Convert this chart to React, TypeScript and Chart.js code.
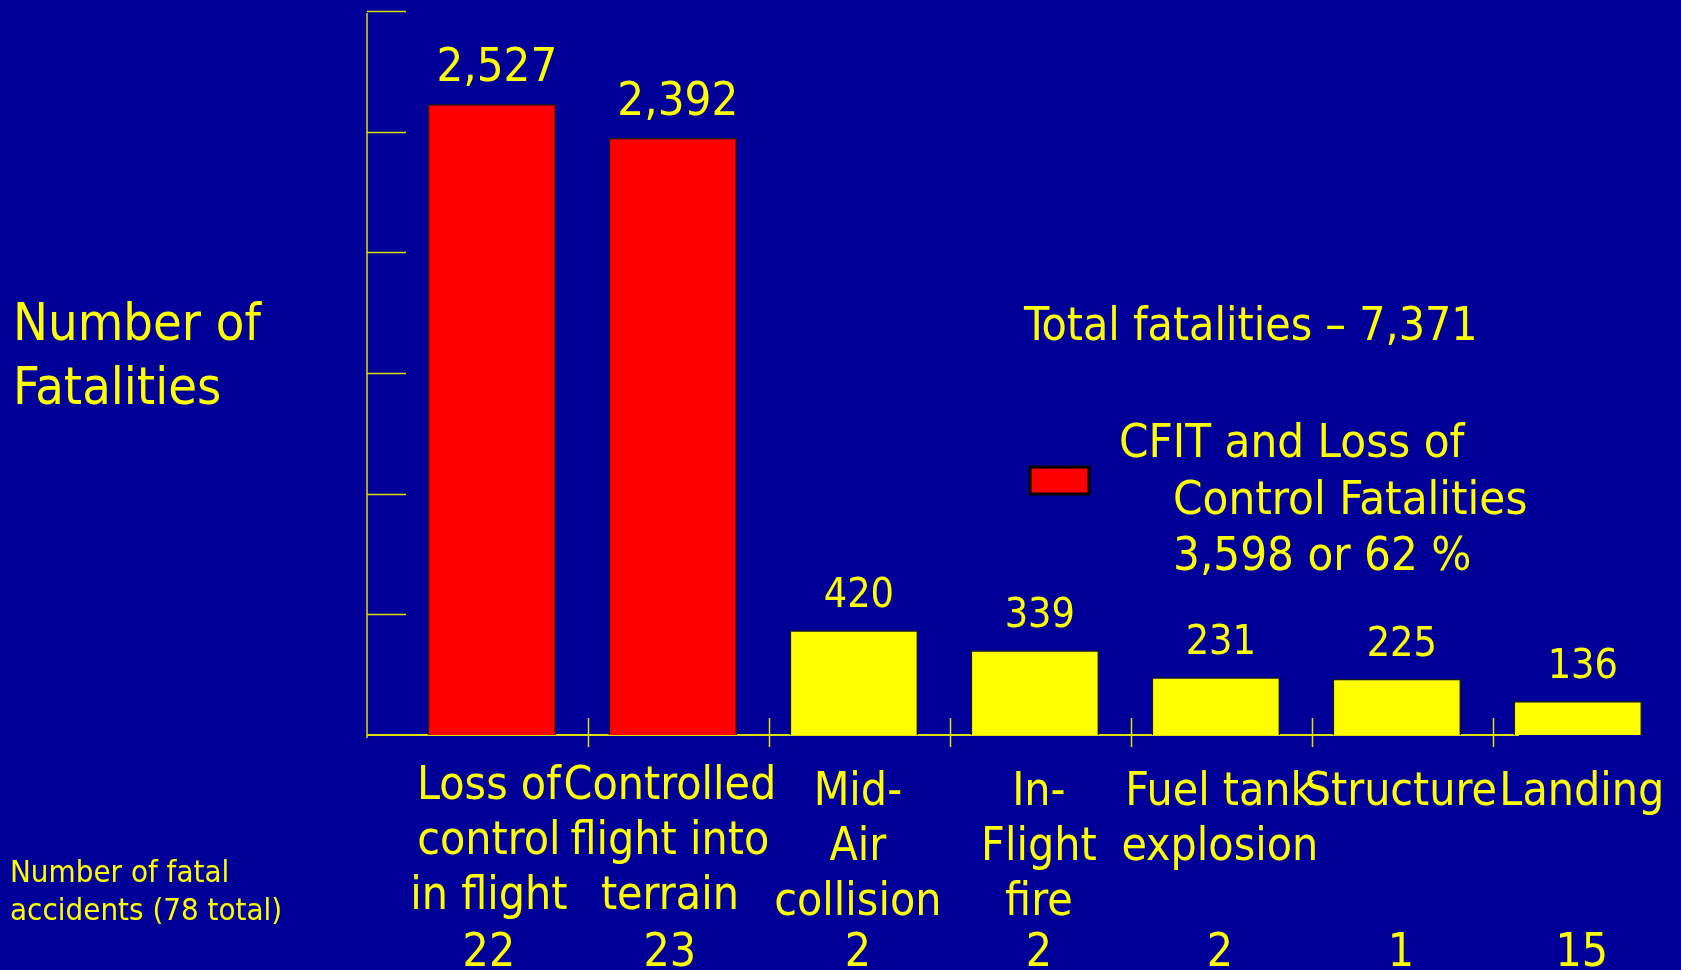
import React, { useEffect, useRef } from 'react';
import { Chart, registerables } from 'chart.js';

Chart.register(...registerables);

// ---------- data ----------
const categoryLines: string[][] = [
  ['Loss of', 'control', 'in flight'],
  ['Controlled', 'flight into', 'terrain'],
  ['Mid-', 'Air', 'collision'],
  ['In-', 'Flight', 'fire'],
  ['Fuel tank', 'explosion'],
  ['Structure'],
  ['Landing'],
];
const fatalities: number[] = [2527, 2392, 420, 339, 231, 225, 136];
const fatalAccidents: number[] = [22, 23, 2, 2, 2, 1, 15];
const cfitOrLoc: boolean[] = [true, true, false, false, false, false, false];

const yAxisTitle: string[] = ['Number of', 'Fatalities'];
const accidentsNote: string[] = ['Number of fatal', 'accidents (78 total)'];
const totalText = 'Total fatalities \u2013 7,371';
const legendLines: string[] = ['CFIT and Loss of', 'Control Fatalities', '3,598 or 62 %'];

const yMax = 2900;
const yTickCount = 6;

// ---------- styles ----------
const FONT = '"DejaVu Sans Condensed", "DejaVu Sans", sans-serif';
const BG = '#000099';
const YELLOW = '#ffff00';
const AXIS = '#e0e000';
const RED = '#ff0000';

const W = 1681;
const H = 970;

const decor = {
  id: 'decor',
  beforeDraw(chart: any) {
    const { ctx } = chart;
    ctx.save();
    ctx.fillStyle = BG;
    ctx.fillRect(0, 0, chart.width, chart.height);
    ctx.restore();
  },
  beforeDatasetsDraw(chart: any) {
    const { ctx, chartArea: a } = chart;
    const x = chart.scales.x;
    const y = chart.scales.y;
    const line = (x1: number, y1: number, x2: number, y2: number) => {
      ctx.beginPath();
      ctx.moveTo(x1, y1);
      ctx.lineTo(x2, y2);
      ctx.stroke();
    };
    ctx.save();
    ctx.strokeStyle = AXIS;
    ctx.lineWidth = 1.5;
    // vertical axis
    line(a.left, y.getPixelForValue(yMax) + 2, a.left, a.bottom + 3);
    // inward ticks
    for (let k = 1; k <= yTickCount; k++) {
      const py = Math.round(y.getPixelForValue((yMax * k) / yTickCount)) + 0.5;
      line(a.left, py, a.left + 39, py);
    }
    // horizontal axis
    ctx.lineWidth = 2;
    line(a.left, a.bottom, a.right, a.bottom);
    // category dividers
    ctx.lineWidth = 1.5;
    for (let i = 0; i < fatalities.length - 1; i++) {
      const px = Math.round(x.getPixelForValue(i + 0.53)) + 0.5;
      line(px, a.bottom - 17, px, a.bottom + 12);
    }
    ctx.restore();
  },
  afterDatasetsDraw(chart: any) {
    const { ctx, chartArea: a } = chart;
    const x = chart.scales.x;
    const y = chart.scales.y;
    ctx.save();
    ctx.fillStyle = YELLOW;
    ctx.textAlign = 'center';
    ctx.textBaseline = 'alphabetic';
    // value labels
    fatalities.forEach((v, i) => {
      const px = x.getPixelForValue(i) + 5;
      const py = y.getPixelForValue(v) - 23;
      ctx.font = `${cfitOrLoc[i] ? 47 : 41}px ${FONT}`;
      ctx.fillText(v.toLocaleString('en-US'), px, py);
    });
    // category labels + accident counts
    ctx.font = `46px ${FONT}`;
    categoryLines.forEach((lines, i) => {
      const px = x.getPixelForValue(i) + (cfitOrLoc[i] ? -3 : 4);
      const shift = cfitOrLoc[i] ? -6 : 0;
      lines.forEach((t, j) => {
        ctx.fillText(t, px, a.bottom + 70 + shift + j * 55);
      });
      ctx.fillText(String(fatalAccidents[i]), px, a.bottom + 231);
    });

    ctx.textAlign = 'left';
    // y axis title
    ctx.font = `52px ${FONT}`;
    yAxisTitle.forEach((t, j) => ctx.fillText(t, 13, 340 + j * 64));
    // accidents note
    ctx.font = `31px ${FONT}`;
    accidentsNote.forEach((t, j) => ctx.fillText(t, 10, 882 + j * 38));
    // total
    ctx.font = `46px ${FONT}`;
    ctx.fillText(totalText, 1024, 340);
    // legend
    ctx.fillStyle = RED;
    ctx.fillRect(1030, 467, 59, 27);
    ctx.strokeStyle = '#000000';
    ctx.lineWidth = 3;
    ctx.strokeRect(1030, 467, 59, 27);
    ctx.fillStyle = YELLOW;
    ctx.font = `47px ${FONT}`;
    ctx.fillText(legendLines[0], 1119, 457);
    ctx.fillText(legendLines[1], 1173, 514);
    ctx.fillText(legendLines[2], 1173, 570);
    ctx.restore();
  },
};

export default function App() {
  const ref = useRef<HTMLCanvasElement | null>(null);

  useEffect(() => {
    document.body.style.margin = '0';
    document.body.style.background = BG;
    const canvas = ref.current;
    if (!canvas) return;
    const chart = new Chart(canvas, {
      type: 'bar',
      data: {
        datasets: [
          {
            label: 'Fatalities',
            data: fatalities.map((v, i) => ({ x: i, y: v })),
            backgroundColor: fatalities.map((_, i) => (cfitOrLoc[i] ? RED : YELLOW)),
            borderColor: '#1a1a1a',
            borderWidth: 1.5,
            borderSkipped: 'start',
            barPercentage: 0.71,
            categoryPercentage: 1,
            clip: false as any,
          },
        ],
      },
      options: {
        animation: false,
        responsive: false,
        devicePixelRatio: 1,
        layout: { padding: { left: 367, top: 11, right: W - 1519, bottom: H - 735 } },
        plugins: {
          legend: { display: false },
          tooltip: { enabled: false },
          title: { display: false },
        },
        scales: {
          x: {
            type: 'linear',
            display: false,
            min: -0.69,
            max: 5.675,
            offset: false,
            afterBuildTicks: (s: any) => {
              s.ticks = fatalities.map((_, i) => ({ value: i }));
            },
          },
          y: { type: 'linear', display: false, min: 0, max: yMax },
        },
      },
      plugins: [decor],
    });
    return () => chart.destroy();
  }, []);

  return (
    <div style={{ position: 'fixed', left: 0, top: 0, width: W, height: H, background: BG }}>
      <canvas ref={ref} width={W} height={H} style={{ display: 'block' }} />
    </div>
  );
}
